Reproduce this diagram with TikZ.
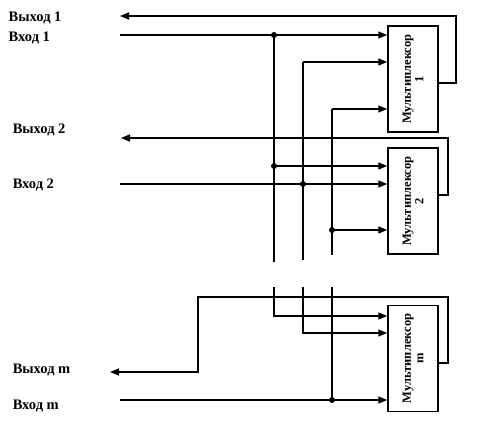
\documentclass[tikz,border=0pt]{standalone}
\usepackage{fontspec}
\setmainfont{Liberation Serif}
\usetikzlibrary{arrows.meta}

\begin{document}
\begin{tikzpicture}[x=1pt,y=-1pt,line width=1.5pt,
	mux/.style={draw,minimum width=50pt,minimum height=106pt,inner sep=0pt},
	muxtext/.style={rotate=90,align=center,font=\bfseries\fontsize{12.5}{12.5}\selectfont},
	sig/.style={-{Triangle[length=9pt,width=7pt]}},
	lbl/.style={font=\bfseries\fontsize{14.5}{15}\selectfont,anchor=west,inner sep=0pt},
	dot/.style={circle,fill,inner sep=0pt,minimum size=6pt}]
	\useasboundingbox (0,0) rectangle (487,439);
	% multiplexer blocks
	\node[mux] (mux1) at (413,79) {};
	\node[mux] (mux2) at (413,201) {};
	\node[mux] (muxm) at (413,358.5) {};
	\node[muxtext] at (mux1) {Мультиплексор\\1};
	\node[muxtext] at (mux2) {Мультиплексор\\2};
	\node[muxtext] at (muxm) {Мультиплексор\\m};
	% labels
	\node[lbl] (lo1) at (8,18) {Выход 1};
	\node[lbl] (li1) at (8,38) {Вход 1};
	\node[lbl] (lo2) at (12,130) {Выход 2};
	\node[lbl] (li2) at (12,185) {Вход 2};
	\node[lbl] (lom) at (12,370) {Выход m};
	\node[lbl] (lim) at (12,406) {Вход m};
	% line ends and bus points
	\coordinate (o1) at (120,16);
	\coordinate (i1) at (120,35);
	\coordinate (o2) at (121,138);
	\coordinate (i2) at (120,184);
	\coordinate (om) at (110,372);
	\coordinate (im) at (120,400);
	\coordinate (a1) at (274,35);
	\coordinate (b1) at (303,62);
	\coordinate (c1) at (332,109);
	\coordinate (a2) at (274,166);
	\coordinate (b2) at (303,184);
	\coordinate (c2) at (332,230);
	\coordinate (am) at (274,316);
	\coordinate (bm) at (303,333);
	\coordinate (cm) at (332,400);
	% inputs
	\draw[sig] (i1) -- (mux1.west |- a1);
	\draw[sig] (b1) -- (mux1.west |- b1);
	\draw[sig] (c1) -- (mux1.west |- c1);
	\draw[sig] (a2) -- (mux2.west |- a2);
	\draw[sig] (i2) -- (mux2.west |- b2);
	\draw[sig] (c2) -- (mux2.west |- c2);
	\draw[sig] (274,287) |- (muxm.west |- am);
	\draw[sig] (303,287) |- (muxm.west |- bm);
	\draw[sig] (im) -- (muxm.west |- cm);
	% buses
	\draw (a1) -- (274,262);
	\draw (b1) -- (303,260);
	\draw (c1) -- (332,255);
	\draw (332,287) -- (cm);
	\node[dot] at (a1) {};
	\node[dot] at (a2) {};
	\node[dot] at (b2) {};
	\node[dot] at (c2) {};
	\node[dot] at (cm) {};
	% outputs
	\draw[sig] ([yshift=-4pt]mux1.east) -- (456,83) |- (o1);
	\draw[sig] ([yshift=6pt]mux2.east) -- (448,195) |- (o2);
	\draw[sig] ([yshift=-4.5pt]muxm.east) -- (448,363) |- (198,297) |- (om);
\end{tikzpicture}
\end{document}
